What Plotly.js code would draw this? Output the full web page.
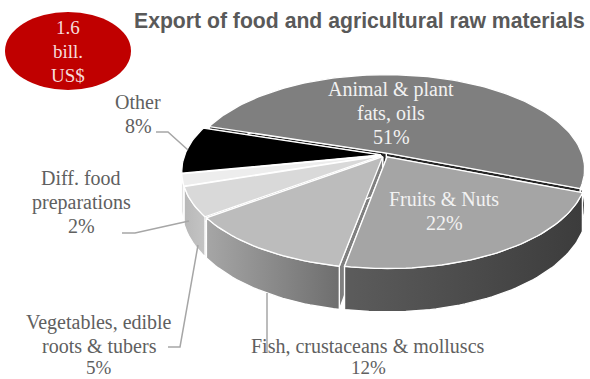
<!DOCTYPE html>
<html>
<head>
<meta charset="utf-8">
<script src="https://cdn.plot.ly/plotly-3.0.1.min.js"></script>
<style>html,body{margin:0;padding:0;background:#fff}#chart{width:590px;height:379px}</style>
</head>
<body>
<div id="chart"></div>
<script>
// Export shares, in percent, clockwise from the start angle
const categories = ['Animal & plant|fats, oils', 'Fruits & Nuts', 'Fish, crustaceans & molluscs',
                    'Vegetables, edible|roots & tubers', 'Diff. food|preparations', 'Other'];
const shares = [51, 22, 12, 5, 2, 8];

// Slice styling, same order as the categories
const topColors = ['#7f7f7f', '#a5a5a5', '#bcbcbc', '#d9d9d9', '#ededed', '#000000'];
const wallLeft  = ['#3a3a3a', '#5c5c5c', '#a6a6a6', '#b8b8b8', '#d4d4d4', '#202020'];
const wallRight = ['#3a3a3a', '#3c3c3c', '#6e6e6e', '#c4c4c4', '#d4d4d4', '#202020'];
const cutColors = ['#262626', '#4a4a4a', '#808080', '#a0a0a0', '#c4c4c4', '#111111'];
const labelColors = ['#f2f2f2', '#f2f2f2', '#606060', '#606060', '#606060', '#606060'];
const labelX = [391, 444, 368, 99, 81, 138];
const labelFirstY = [89, 199, 346, 322, 178, 102];
const labelLineGap = 24;

// Leader lines for the outside labels
const leaders = [
  [[156, 132], [168, 132], [188, 150]],
  [[122, 233], [135, 233], [189, 221]],
  [[168, 347], [180, 347], [198, 245]],
  [[267, 293], [267, 353]]
];

// Perspective view of the disc
const view = {cx: 385, cy: 155, R: 196, S: 92.3, k: 0.168, depth: 36, explode: 0.022, startDeg: -72.3};

function project(u, v, z) {
  const w = 1 + view.k * v;
  return [view.cx + view.R * u / w, view.cy - view.S * v / w + view.depth * z / w];
}

function polygon(points, extra) {
  return Object.assign({
    type: 'scatter', mode: 'lines', fill: 'toself', hoverinfo: 'skip', showlegend: false,
    x: points.map(p => p[0]), y: points.map(p => p[1])
  }, extra);
}

const total = shares.reduce((a, b) => a + b, 0);
const slices = [];
let running = view.startDeg;
shares.forEach((value, i) => {
  const sweep = value / total * 360;
  slices.push({i, from: running, to: running + sweep});
  running += sweep;
});

function sliceTraces(s) {
  const rad = d => d * Math.PI / 180;
  const mid = rad((s.from + s.to) / 2);
  const ou = view.explode * Math.sin(mid), ov = view.explode * Math.cos(mid);
  const at = (deg, r, z) => project(ou + r * Math.sin(rad(deg)), ov + r * Math.cos(rad(deg)), z);
  const topArc = [], lowArc = [];
  const n = Math.max(6, Math.ceil((s.to - s.from) / 1.5));
  for (let j = 0; j <= n; j++) {
    const d = s.from + (s.to - s.from) * j / n;
    topArc.push(at(d, 1, 0));
    lowArc.push(at(d, 1, 1));
  }
  const edge = {color: '#ffffff', width: 1.3};
  const cut = deg => polygon([at(deg, 0, 0), at(deg, 1, 0), at(deg, 1, 1), at(deg, 0, 1), at(deg, 0, 0)],
    {fillcolor: cutColors[s.i], line: edge});
  const wall = polygon(topArc.concat(lowArc.slice().reverse(), [topArc[0]]), {
    line: edge,
    fillgradient: {type: 'horizontal', colorscale: [[0, wallLeft[s.i]], [1, wallRight[s.i]]]}
  });
  const top = polygon([at(0, 0, 0)].concat(topArc, [at(0, 0, 0)]), {fillcolor: topColors[s.i], line: edge});
  return [cut(s.from), cut(s.to), wall, top];
}

// Back-to-front paint order
const paintOrder = [0, 5, 4, 3, 2, 1];
const traces = [];
paintOrder.forEach(i => traces.push(...sliceTraces(slices[i])));

const serif = 'Liberation Serif, serif';
const annotations = [];
function addLine(x, y, text, size, color) {
  annotations.push({
    x, y, xref: 'x', yref: 'y', showarrow: false, text, borderpad: 0,
    xanchor: 'center', yanchor: 'middle',
    font: {family: serif, size, color}
  });
}
categories.forEach((name, i) => {
  const lines = name.split('|').concat(shares[i] + '%');
  lines.forEach((line, j) => {
    const y = labelFirstY[i] + j * labelLineGap;
    // The last row sits against the lower page edge, so it is nudged to stay inside
    if (y >= 370) addLine(labelX[i], 367.5, line, 19, labelColors[i]);
    else addLine(labelX[i], y, line, 20, labelColors[i]);
  });
});
['1.6', 'bill.', 'US$'].forEach((line, j) => addLine(68, 27 + j * labelLineGap, line, 19, '#f6dcdc'));
annotations.push({
  x: 359, y: 21, xref: 'x', yref: 'y', showarrow: false,
  text: '<b>Export of food and agricultural raw materials</b>', xanchor: 'center', yanchor: 'middle',
  font: {family: 'Liberation Sans, Arial, sans-serif', size: 21.2, color: '#595959'}
});

const shapes = leaders.map(pts => ({
  type: 'path', xref: 'x', yref: 'y',
  path: pts.map((p, j) => (j ? 'L' : 'M') + p[0] + ',' + p[1]).join(' '),
  line: {color: '#a6a6a6', width: 1.5}
}));
shapes.push({type: 'circle', xref: 'x', yref: 'y', x0: 5, x1: 131, y0: 12, y1: 90,
             fillcolor: '#c00000', line: {width: 0}});

Plotly.newPlot('chart', traces, {
  width: 590, height: 379,
  margin: {l: 0, r: 0, t: 0, b: 0},
  paper_bgcolor: '#ffffff', plot_bgcolor: '#ffffff',
  showlegend: false,
  xaxis: {range: [0, 590], visible: false, fixedrange: true},
  yaxis: {range: [379, 0], visible: false, fixedrange: true},
  annotations, shapes
}, {displayModeBar: false, staticPlot: true});
</script>
</body>
</html>
